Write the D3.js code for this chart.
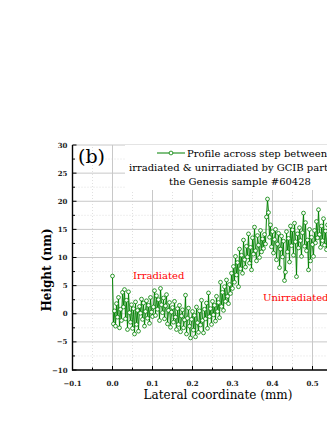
<!DOCTYPE html>
<html lang="en">
<head>
    <meta charset="UTF-8">
    <title>Profile across step</title>
    <script src="https://d3js.org/d3.v7.min.js"></script>
    <style>
        body { margin: 0; background: #fff; }
        svg { display: block; font-family: "DejaVu Serif", serif; }
        .major { stroke: #c8c8c8; stroke-width: 1; }
        .minor { stroke: #d8d8d8; stroke-width: 0.8; stroke-dasharray: 1,2; }
        .tick-label { font-size: 7px; font-weight: bold; fill: #222; }
    </style>
</head>
<body>
<div id="chart"></div>
<script>
    const xTicks = [-0.1, 0.0, 0.1, 0.2, 0.3, 0.4, 0.5];
    const yTicks = [-10, -5, 0, 5, 10, 15, 20, 25, 30];
    const step = 0.0025;

    // height (nm), one value every 0.0025 mm from x = 0
    const heights = [
        6.7, -1.8, 0.5, -2.2, 1.8, -0.6, 2.9, -2.5, 0.8, -1.2, 3.8, 1.2, 4.3, -0.9, 2.4, -2.8, 3.9, 0.2, -1.5, 1.6,
        -2.6, 0.9, -3.6, 2.1, -1.9, 0.6, -3.1, 1.3, 0.1, 2.6, -1.0, 1.9, -2.2, 0.4, 2.3, -0.8, 1.5, -1.7, 2.9, 0.3,
        -0.5,
        1.2, 4.1, -0.3, 3.2, 0.8, 2.5, -1.2, 4.5, 1.6, 0.2, 2.8, -0.9, 1.4, 3.4, -1.8, 0.6, 2.0, -2.4, 0.3, 1.1,
        -1.5, 2.2, -0.6, -2.8, 0.9, -1.9, 1.5, -3.2, -0.4, 0.7, -2.5, -1.1, 3.3, -3.6, -0.8, 1.0, -2.2, -4.3, -1.0, 0.4,
        -2.9, -0.3, -4.1, 1.2, -1.6, -3.3, 0.5, -2.0, 2.4, -1.2, -3.4, 0.8, -0.9, 1.9, -2.6, 3.7, -0.5, 0.9, -1.9, 2.2,
        -0.2, 1.5, -1.3, 3.1, 0.4, 2.0, -0.7, 5.6, 1.3, 3.8, 0.6, 4.8, 2.2, 6.0, 3.1, 1.8, 5.2, 3.6, 7.2, 4.5,
        8.4, 5.6, 10.2, 6.9, 9.1, 4.8, 11.5, 8.0, 10.4, 7.2, 13.1, 9.6, 8.3, 12.0, 10.1, 14.2, 9.0, 11.8, 7.8, 13.5,
        10.6, 15.4, 11.2, 9.4, 13.9, 12.2, 10.0, 14.8, 11.0, 13.3, 11.6, 14.1, 12.4, 17.2, 20.4, 18.0, 13.6, 15.8, 11.9, 14.6,
        10.8, 13.2, 15.0, 9.6, 12.4, 14.3, 8.2, 11.5, 13.8, 10.1, 12.9, 5.9, 7.4, 14.6, 11.0, 13.4, 9.2, 15.6, 12.1, 14.9,
        10.4, 16.1, 12.8, 6.6, 14.2, 11.7, 15.3, 13.0, 10.2, 14.4, 17.9, 12.0, 16.2, 11.2, 13.1, 7.8, 15.0, 9.4, 13.6, 12.3,
        10.2, 14.8, 12.6, 16.4, 13.5, 18.5, 14.1, 11.8, 15.6, 13.0, 16.9, 12.2, 14.7, 11.4, 15.8, 13.3, 17.1, 12.8, 14.2, 11.6,
        15.1, 13.7, 12.5, 14.4
    ];
    const profile = heights.map((h, i) => ({ x: i * step, y: h }));

    const width = 327, height = 423;
    const svg = d3.select("#chart").append("svg")
        .attr("width", width)
        .attr("height", height);

    const x = d3.scaleLinear().domain([-0.1, 0.6]).range([72.5, 352.5]);
    const y = d3.scaleLinear().domain([-10, 30]).range([370, 145]);

    const xMinor = d3.range(-0.05, 0.6, 0.1);
    const yMinor = d3.range(-7.5, 30, 5);

    // grid
    const grid = svg.append("g");
    grid.selectAll(".gx-minor").data(xMinor).enter().append("line")
        .attr("class", "minor")
        .attr("x1", d => x(d)).attr("x2", d => x(d))
        .attr("y1", y(-10)).attr("y2", y(30));
    grid.selectAll(".gy-minor").data(yMinor).enter().append("line")
        .attr("class", "minor")
        .attr("x1", x(-0.1)).attr("x2", width)
        .attr("y1", d => y(d)).attr("y2", d => y(d));
    grid.selectAll(".gx").data(xTicks.slice(1)).enter().append("line")
        .attr("class", "major")
        .attr("x1", d => x(d)).attr("x2", d => x(d))
        .attr("y1", y(-10)).attr("y2", y(30));
    grid.selectAll(".gy").data(yTicks.slice(1)).enter().append("line")
        .attr("class", "major")
        .attr("x1", x(-0.1)).attr("x2", width)
        .attr("y1", d => y(d)).attr("y2", d => y(d));

    // legend box hides the grid behind it
    svg.append("rect")
        .attr("x", 125).attr("y", 145)
        .attr("width", 210).attr("height", 45)
        .attr("fill", "#fff");

    // profile
    svg.append("path")
        .datum(profile)
        .attr("fill", "none")
        .attr("stroke", "#008000")
        .attr("stroke-width", 1)
        .attr("d", d3.line().x(d => x(d.x)).y(d => y(d.y)));

    svg.append("g").selectAll("circle")
        .data(profile)
        .enter().append("circle")
        .attr("cx", d => x(d.x))
        .attr("cy", d => y(d.y))
        .attr("r", 1.9)
        .attr("fill", "#fff")
        .attr("stroke", "#008000")
        .attr("stroke-width", 0.8);

    // axes, ticks pointing inward
    const axes = svg.append("g").attr("stroke", "#000");
    axes.append("line")
        .attr("x1", x(-0.1)).attr("x2", x(-0.1))
        .attr("y1", y(30)).attr("y2", y(-10) + 0.5)
        .attr("stroke-width", 1.4);
    axes.append("line")
        .attr("x1", x(-0.1) - 0.5).attr("x2", width)
        .attr("y1", y(-10)).attr("y2", y(-10))
        .attr("stroke-width", 1.4);
    axes.selectAll(".ty").data(yTicks).enter().append("line")
        .attr("x1", x(-0.1)).attr("x2", x(-0.1) + 4)
        .attr("y1", d => y(d)).attr("y2", d => y(d));
    axes.selectAll(".tym").data(yMinor).enter().append("line")
        .attr("x1", x(-0.1)).attr("x2", x(-0.1) + 2.5)
        .attr("y1", d => y(d)).attr("y2", d => y(d));
    axes.selectAll(".tx").data(xTicks).enter().append("line")
        .attr("x1", d => x(d)).attr("x2", d => x(d))
        .attr("y1", y(-10)).attr("y2", y(-10) - 4);
    axes.selectAll(".txm").data(xMinor).enter().append("line")
        .attr("x1", d => x(d)).attr("x2", d => x(d))
        .attr("y1", y(-10)).attr("y2", y(-10) - 2.5);

    svg.append("g").selectAll("text")
        .data(yTicks)
        .enter().append("text")
        .attr("class", "tick-label")
        .attr("x", x(-0.1) - 5)
        .attr("y", d => y(d) + 2.5)
        .attr("text-anchor", "end")
        .text(d => d < 0 ? "\u2212" + Math.abs(d) : d);

    svg.append("g").selectAll("text")
        .data(xTicks)
        .enter().append("text")
        .attr("class", "tick-label")
        .attr("x", d => x(d))
        .attr("y", 386)
        .attr("text-anchor", "middle")
        .text(d => (d < 0 ? "\u2212" : "") + Math.abs(d).toFixed(1));

    // titles
    svg.append("text")
        .attr("x", 218)
        .attr("y", 399)
        .attr("text-anchor", "middle")
        .style("font-size", "12px")
        .text("Lateral coordinate (mm)");

    svg.append("text")
        .attr("transform", "translate(51,270) rotate(-90)")
        .attr("text-anchor", "middle")
        .style("font-size", "12px")
        .style("font-weight", "bold")
        .text("Height (nm)");

    svg.append("text")
        .attr("x", 78).attr("y", 163)
        .style("font-size", "19px")
        .text("(b)");

    // legend
    const legend = svg.append("g");
    legend.append("line")
        .attr("x1", 157).attr("x2", 185)
        .attr("y1", 153).attr("y2", 153)
        .attr("stroke", "#008000").attr("stroke-width", 1);
    legend.append("circle")
        .attr("cx", 171).attr("cy", 153).attr("r", 1.9)
        .attr("fill", "#fff").attr("stroke", "#008000").attr("stroke-width", 0.8);
    const legendLines = [
        { t: "Profile across step between", x: 187, anchor: "start", y: 157 },
        { t: "irradiated & unirradiated by GCIB particles", x: 240, anchor: "middle", y: 171 },
        { t: "the Genesis sample #60428", x: 240, anchor: "middle", y: 185 }
    ];
    legend.selectAll("text")
        .data(legendLines)
        .enter().append("text")
        .attr("x", d => d.x)
        .attr("y", d => d.y)
        .attr("text-anchor", d => d.anchor)
        .style("font-size", "10px")
        .text(d => d.t);

    svg.append("text")
        .attr("x", 133).attr("y", 279)
        .attr("fill", "#ff0000")
        .style("font-size", "10px")
        .text("Irradiated");
    svg.append("text")
        .attr("x", 263).attr("y", 301)
        .attr("fill", "#ff0000")
        .style("font-size", "10px")
        .text("Unirradiated");
</script>
</body>
</html>
